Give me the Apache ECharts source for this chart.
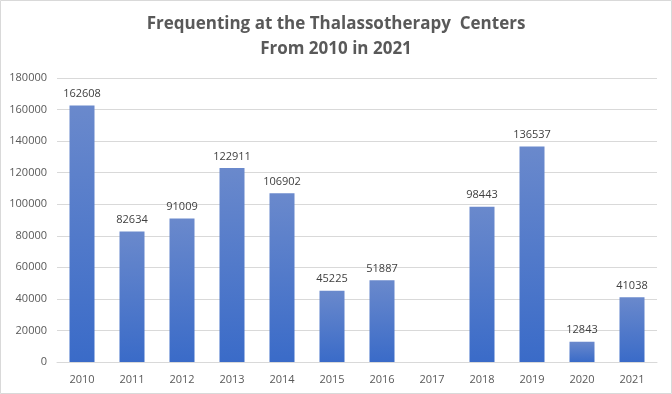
<!DOCTYPE html>
<html><head><meta charset="utf-8">
<script src="https://cdn.jsdelivr.net/npm/echarts@6/dist/echarts.min.js"></script>
<style>html,body{margin:0;padding:0;background:#fff}#c{width:672px;height:394px}</style>
</head><body><div id="c"></div>
<script>
const categories = ['2010','2011','2012','2013','2014','2015','2016','2017','2018','2019','2020','2021'];
const visitors = [162608, 82634, 91009, 122911, 106902, 45225, 51887, null, 98443, 136537, 12843, 41038];
const yTicks = [0, 20000, 40000, 60000, 80000, 100000, 120000, 140000, 160000, 180000];

const chart = echarts.init(document.getElementById('c'));
chart.setOption({
  animation: false,
  backgroundColor: '#fff',
  graphic: [{type:'rect', shape:{x:0.5,y:0.5,width:671,height:393}, style:{fill:'none', stroke:'#d9d9d9', lineWidth:1}, silent:true}],
  title: {
    text: 'Frequenting at the Thalassotherapy  Centers\nFrom 2010 in 2021',
    left: 'center', top: 7,
    textStyle: {fontFamily:'Open Sans', fontSize:17, fontWeight:'bold', color:'#595959', lineHeight:25}
  },
  grid: {left:57, right:15, top:78, bottom:32, containLabel:false},
  xAxis: {
    type:'category', data: categories,
    axisLine:{lineStyle:{color:'#d9d9d9'}}, axisTick:{show:false},
    axisLabel:{color:'#595959', fontFamily:'Open Sans', fontSize:11, margin:12}
  },
  yAxis: {
    type:'value', min: yTicks[0], max: yTicks[yTicks.length-1], interval: yTicks[1]-yTicks[0],
    axisLine:{show:false}, axisTick:{show:false},
    splitLine:{lineStyle:{color:'#d9d9d9'}},
    axisLabel:{color:'#595959', fontFamily:'Open Sans', fontSize:11, margin:10, formatter: v => String(v)}
  },
  series: [{
    type:'bar', data: visitors, barWidth: 25,
    itemStyle:{color: new echarts.graphic.LinearGradient(0,0,0,1,[{offset:0,color:'#6a89cc'},{offset:1,color:'#3a6bc8'}])},
    label:{show:true, position:'top', distance:6, color:'#404040', fontFamily:'Open Sans', fontSize:11}
  }]
});
</script></body></html>
